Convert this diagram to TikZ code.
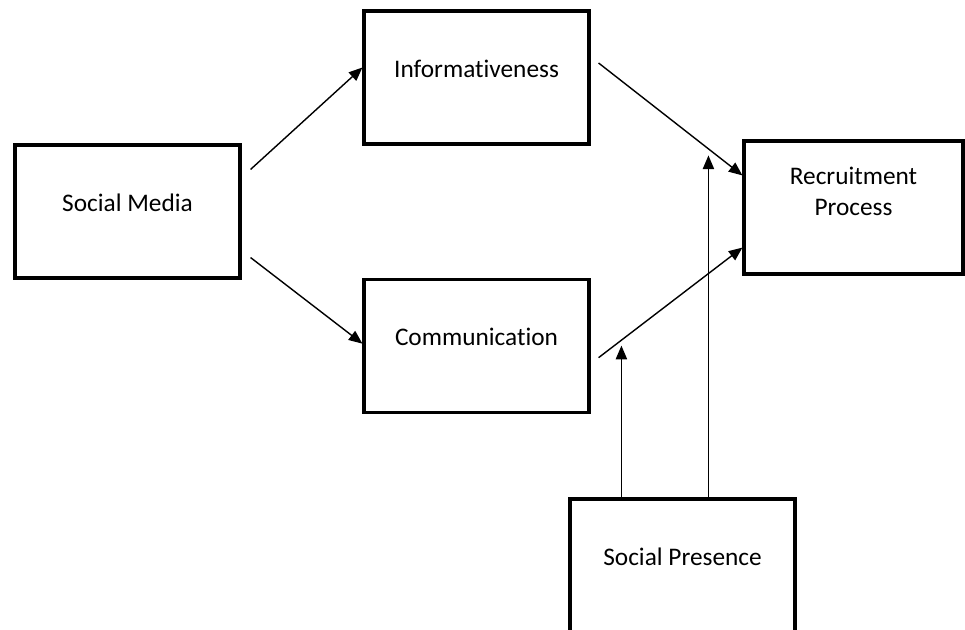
\documentclass[tikz,border=0pt]{standalone}
\usepackage{fontspec}
\setmainfont{Carlito}[Ligatures=CommonOff]
\usetikzlibrary{positioning}
\usetikzlibrary{arrows.meta}

\begin{document}
\begin{tikzpicture}[x=0.025cm, y=0.025cm,
                    every node/.append style={font=\fontsize{18}{22}\selectfont},
                    box/.style={rectangle, draw, line width=2.2pt, minimum width=5.625cm, minimum height=3.325cm, align=center, text height=0.5em, text depth=0.5em},
                    twolinebox/.style={box, minimum width=5.475cm, text height=1.5em, text depth=0.4em},
                    arrow/.style={line width=1pt, -{Triangle[length=0.34cm, width=0.28cm]}}]
    \path [use as bounding box, clip] (0,0) rectangle (965,630);

    \node [box] (socmedia) at (127.5,418.5) {Social Media};
    \node [box] (inform) at (476.5,552.5) {Informativeness};
    \node [box, below=3.3cm of inform] (comm) {Communication};
    \node [twolinebox] (recruit) at (853.5,422.5) {Recruitment\\Process};
    \node [box] (socpres) at (682.5,64.5) {Social Presence};

    % Feet of the moderating arrows
    \coordinate (presleft) at ([shift={(53,0)}]socpres.north west);
    \coordinate (presright) at ([shift={(140,0)}]socpres.north west);

    % Draw the arrows
    \draw [arrow] ([shift={(9,-26)}]socmedia.north east) -- ([shift={(0,10)}]inform.west);
    \draw [arrow] ([shift={(9,22)}]socmedia.south east)  -- ([shift={(0,2)}]comm.west);
    \draw [arrow] ([shift={(8,14.5)}]inform.east)        -- ([shift={(0,-36)}]recruit.north west);
    \draw [arrow] ([shift={(8,-12)}]comm.east)           -- ([shift={(0,28)}]recruit.south west);
    \draw [arrow] (presleft)  -- (presleft |- comm);
    \draw [arrow] (presright) -- ([shift={(0,-16)}]presright |- recruit.north);
\end{tikzpicture}
\end{document}
